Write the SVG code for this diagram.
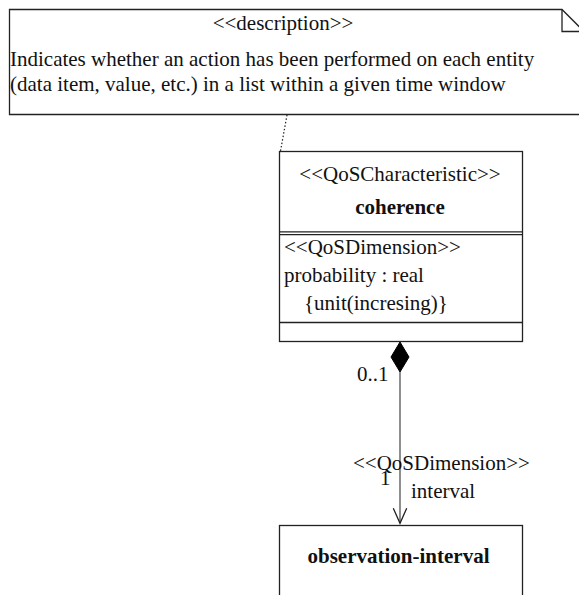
<svg xmlns="http://www.w3.org/2000/svg" width="579" height="595" viewBox="0 0 579 595">
<style>
text{font-family:"Liberation Serif","Times New Roman",serif;font-size:21px;fill:#111}
.b{font-weight:bold}
.m{text-anchor:middle}
.box{fill:#fff;stroke:#222;stroke-width:1.3}
.ln{stroke:#222;stroke-width:1.3;fill:none}
</style>
<rect width="579" height="595" fill="#fff"/>
<g id="note">
<path class="box" d="M9.5,9.5 H562 L584,31.5 V114.5 H9.5 Z"/>
<path class="ln" d="M562,9.5 V31.5 H584"/>
<text class="m" x="283" y="30">&lt;&lt;description&gt;&gt;</text>
<text x="10" y="66">Indicates whether an action has been performed on each entity</text>
<text x="10" y="91">(data item, value, etc.) in a list within a given time window</text>
</g>
<g id="coherence">
<rect class="box" x="279.5" y="151.5" width="243" height="190"/>
<line class="ln" x1="279.5" y1="231.8" x2="522.5" y2="231.8" stroke-width="2"/>
<line class="ln" x1="279.5" y1="234.6" x2="522.5" y2="234.6"/>
<line class="ln" x1="279.5" y1="322.5" x2="522.5" y2="322.5"/>
<text class="m" x="400" y="181">&lt;&lt;QoSCharacteristic&gt;&gt;</text>
<text class="m b" x="400" y="214">coherence</text>
<text x="284" y="254">&lt;&lt;QoSDimension&gt;&gt;</text>
<text x="284" y="282">probability : real</text>
<text x="304" y="310">{unit(incresing)}</text>
</g>
<g id="observation-interval">
<rect class="box" x="279.5" y="525.5" width="243" height="80"/>
<text class="m b" x="398.5" y="563">observation-interval</text>
</g>
<g id="connectors">
<line x1="287" y1="115" x2="280.5" y2="151" stroke="#222" stroke-width="1.2" stroke-dasharray="1.5,2"/>
<line x1="400" y1="372" x2="400" y2="523" stroke="#444" stroke-width="1.2"/>
<path d="M400,342 L409,357 L400,372 L391,357 Z" fill="#000" stroke="#000"/>
<path class="ln" d="M393.3,508.3 L400,523.3 L406.7,508.3"/>
<text x="357" y="381">0..1</text>
<text x="353" y="470">&lt;&lt;QoSDimension&gt;&gt;</text>
<text x="380" y="485">1</text>
<text x="411" y="498">interval</text>
</g>
</svg>
